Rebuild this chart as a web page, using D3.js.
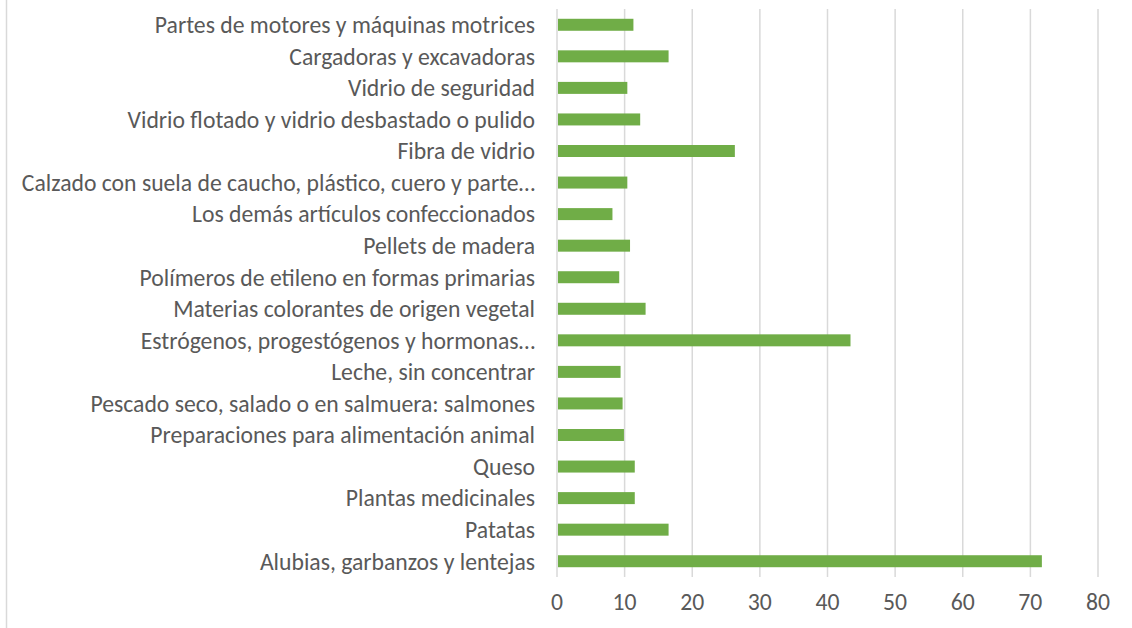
<!DOCTYPE html>
<html>
<head>
<meta charset="utf-8">
<script src="https://cdn.jsdelivr.net/npm/d3@7"></script>
<style>
  body { margin: 0; background: #fff; }
  svg { display: block; }
  .lbl { font-family: Carlito, "Open Sans", sans-serif; font-size: 23.7px; fill: #595959; }
</style>
</head>
<body>
<div id="chart"></div>
<script>
const categories = [
  "Partes de motores y máquinas motrices",
  "Cargadoras y excavadoras",
  "Vidrio de seguridad",
  "Vidrio flotado y vidrio desbastado o pulido",
  "Fibra de vidrio",
  "Calzado con suela de caucho, plástico, cuero y parte…",
  "Los demás artículos confeccionados",
  "Pellets de madera",
  "Polímeros de etileno en formas primarias",
  "Materias colorantes de origen vegetal",
  "Estrógenos, progestógenos y hormonas…",
  "Leche, sin concentrar",
  "Pescado seco, salado o en salmuera: salmones",
  "Preparaciones para alimentación animal",
  "Queso",
  "Plantas medicinales",
  "Patatas",
  "Alubias, garbanzos y lentejas"
];
const values = [11.3, 16.5, 10.4, 12.3, 26.3, 10.4, 8.2, 10.8, 9.2, 13.1, 43.4, 9.4, 9.7, 9.9, 11.5, 11.5, 16.5, 71.7];
const xTicks = [0, 10, 20, 30, 40, 50, 60, 70, 80];

const W = 1132, H = 628;
const margin = { top: 9, right: 34, bottom: 51, left: 557 },
  width = W - margin.left - margin.right,
  height = H - margin.top - margin.bottom;

const svg = d3.select("#chart").append("svg")
  .attr("width", W)
  .attr("height", H);

// chart border (only the left edge is visible)
svg.append("rect")
  .attr("x", 6.5).attr("y", -10)
  .attr("width", W + 20).attr("height", H + 20)
  .attr("fill", "none")
  .attr("stroke", "#d9d9d9")
  .attr("stroke-width", 1.5);

const g = svg.append("g")
  .attr("transform", "translate(" + margin.left + "," + margin.top + ")");

const x = d3.scaleLinear().domain([0, 80]).range([0, width]);
const y = d3.scaleBand().domain(categories).range([0, height])
  .paddingInner(0.62).paddingOuter(0.31);

// gridlines
g.selectAll(".grid")
  .data(xTicks)
  .enter().append("line")
  .attr("class", "grid")
  .attr("x1", d => x(d)).attr("x2", d => x(d))
  .attr("y1", 0).attr("y2", height)
  .attr("stroke", "#d9d9d9")
  .attr("stroke-width", 1.5);

// bars
g.selectAll(".bar")
  .data(categories)
  .enter().append("rect")
  .attr("class", "bar")
  .attr("x", x(0) + 1)
  .attr("y", d => y(d))
  .attr("width", (d, i) => x(values[i]) - x(0) - 1)
  .attr("height", y.bandwidth())
  .attr("fill", "#70ad47");

// category labels
g.selectAll(".cat")
  .data(categories)
  .enter().append("text")
  .attr("class", "lbl cat")
  .attr("x", -22)
  .attr("y", d => y(d) + y.bandwidth() / 2)
  .attr("dy", "0.35em")
  .style("text-anchor", "end")
  .text(d => d);

// x tick labels
g.selectAll(".tick-lbl")
  .data(xTicks)
  .enter().append("text")
  .attr("class", "lbl tick-lbl")
  .attr("x", d => x(d))
  .attr("y", height + 33)
  .style("text-anchor", "middle")
  .text(d => d);
</script>
</body>
</html>
